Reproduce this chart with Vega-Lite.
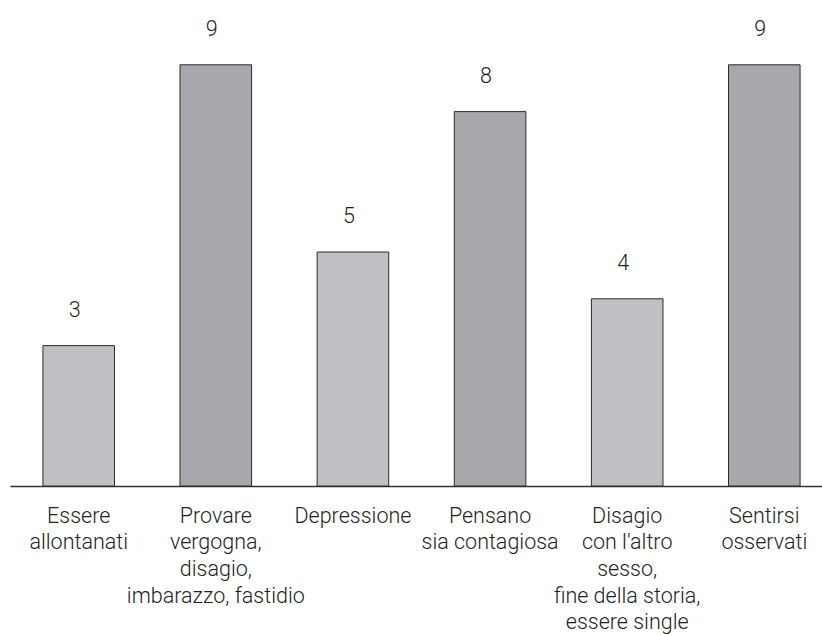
{
  "$schema": "https://vega.github.io/schema/vega-lite/v6.json",
  "width": 812,
  "height": 468,
  "autosize": {"type": "none"},
  "padding": {"left": 10, "top": 18, "right": 0, "bottom": 149},
  "background": "white",
  "config": {
    "view": {"stroke": null},
    "font": "Roboto"
  },
  "data": {
    "values": [
      {"voce": "Essere|allontanati", "valore": 3},
      {"voce": "Provare|vergogna,|disagio,|imbarazzo, fastidio", "valore": 9},
      {"voce": "Depressione", "valore": 5},
      {"voce": "Pensano|sia contagiosa", "valore": 8},
      {"voce": "Disagio|con l'altro|sesso,|fine della storia,|essere single", "valore": 4},
      {"voce": "Sentirsi|osservati", "valore": 9}
    ]
  },
  "encoding": {
    "x": {
      "field": "voce",
      "type": "nominal",
      "sort": null,
      "scale": {"range": [0, 823], "paddingInner": 0.478, "paddingOuter": 0.24},
      "axis": {
        "title": null,
        "labelExpr": "split(datum.label, '|')",
        "labelAngle": 0,
        "labelAlign": "center",
        "labelBaseline": "alphabetic",
        "labelPadding": 36,
        "labelLineHeight": 26.7,
        "labelFont": "Roboto",
        "labelFontSize": 21.5,
        "labelFontWeight": 300,
        "labelColor": "#231f20",
        "labelLimit": 400,
        "labelOverlap": false,
        "labelFlush": false,
        "ticks": false,
        "tickSize": 0,
        "domain": true,
        "domainColor": "#333333",
        "domainWidth": 1.4,
        "grid": false
      }
    },
    "y": {
      "field": "valore",
      "type": "quantitative",
      "scale": {"domain": [0, 10]},
      "axis": null
    }
  },
  "layer": [
    {
      "mark": {"type": "bar", "stroke": "#2b2b2b", "strokeWidth": 1},
      "encoding": {
        "fill": {
          "condition": {"test": "datum.valore >= 8", "value": "#a7a8ac"},
          "value": "#bfc0c4"
        }
      }
    },
    {
      "mark": {
        "type": "text",
        "dy": -29,
        "dx": -4,
        "baseline": "alphabetic",
        "align": "center",
        "font": "Roboto",
        "fontSize": 21.5,
        "fontWeight": 300,
        "color": "#231f20"
      },
      "encoding": {
        "text": {"field": "valore", "type": "quantitative"}
      }
    }
  ]
}
